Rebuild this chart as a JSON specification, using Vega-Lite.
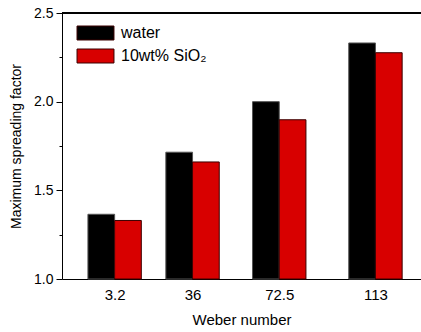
{
  "$schema": "https://vega.github.io/schema/vega-lite/v6.json",
  "width": 359,
  "height": 266,
  "autosize": {"type": "none"},
  "padding": {"left": 62, "top": 13, "right": 0, "bottom": 53},
  "config": {
    "view": {"stroke": null},
    "font": "Liberation Sans",
    "axis": {"domainColor": "#000", "labelColor": "#000", "titleColor": "#000", "tickColor": "#000", "titleFontWeight": "normal", "grid": false}
  },
  "data": {
    "values": [
      {"we": 3.2, "series": "water", "f": 1.365},
      {"we": 3.2, "series": "10wt% SiO₂", "f": 1.33},
      {"we": 36, "series": "water", "f": 1.715},
      {"we": 36, "series": "10wt% SiO₂", "f": 1.66},
      {"we": 72.5, "series": "water", "f": 2.0},
      {"we": 72.5, "series": "10wt% SiO₂", "f": 1.898},
      {"we": 113, "series": "water", "f": 2.331},
      {"we": 113, "series": "10wt% SiO₂", "f": 2.276}
    ]
  },
  "layer": [
    {
      "transform": [{"filter": "datum.series == 'water'"}],
      "mark": {"type": "bar", "width": 26.7, "xOffset": -13.35, "stroke": "#555", "strokeWidth": 1},
      "encoding": {
        "x": {
          "field": "we", "type": "quantitative",
          "scale": {"domain": [-16.85, 130.07], "nice": false, "zero": false},
          "axis": {"values": [3.2, 36, 72.5, 113], "labelExpr": "'' + datum.value", "ticks": false, "title": "Weber number", "labelFontSize": 15, "titleFontSize": 15, "labelPadding": 8, "titlePadding": 10}
        },
        "y": {
          "field": "f", "type": "quantitative",
          "scale": {"domain": [1, 2.5], "nice": false, "zero": false},
          "axis": {
            "values": [1, 1.25, 1.5, 1.75, 2, 2.25, 2.5],
            "labelExpr": "round(datum.value*4)%2==1 ? '' : format(datum.value,'.1f')",
            "tickSize": {"condition": {"test": "round(datum.value*4)%2==1", "value": 3}, "value": 6},
            "labelFontSize": 14, "titleFontSize": 14, "labelPadding": 3, "titlePadding": 10,
            "title": "Maximum spreading factor"
          }
        },
        "y2": {"datum": 1},
        "color": {
          "field": "series", "type": "nominal",
          "scale": {"domain": ["water", "10wt% SiO₂"], "range": ["#000000", "#d80000"]},
          "legend": {
            "orient": "none", "legendX": 25.5, "legendY": 12, "title": null,
            "symbolType": "M-2.64,-1H2.64V1H-2.64Z", "symbolSize": 196,
            "labelFontSize": 16, "labelOffset": 17.5, "rowPadding": 5,
            "symbolStrokeWidth": 1, "symbolStrokeColor": "#444", "padding": 0, "labelColor": "#000"
          }
        }
      }
    },
    {
      "transform": [{"filter": "datum.series != 'water'"}],
      "mark": {"type": "bar", "width": 26.7, "xOffset": 13.35, "stroke": "#3a0000", "strokeWidth": 1},
      "encoding": {
        "x": {"field": "we", "type": "quantitative"},
        "y": {"field": "f", "type": "quantitative"},
        "y2": {"datum": 1},
        "color": {"field": "series", "type": "nominal"}
      }
    },
    {
      "mark": {"type": "rule", "color": "#000", "strokeWidth": 1},
      "encoding": {"y": {"datum": 2.5}}
    }
  ]
}
